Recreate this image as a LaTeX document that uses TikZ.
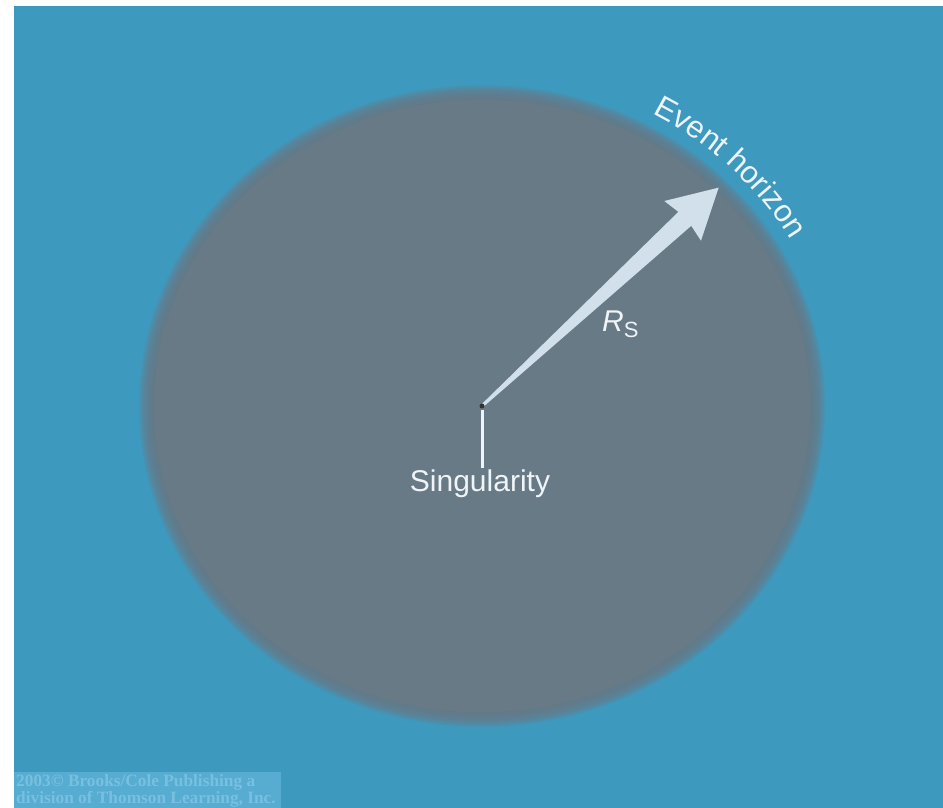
\documentclass[tikz,border=0pt]{standalone}
\usepackage{fontspec}
\setmainfont{Liberation Sans}
\newfontfamily\copyfont{Liberation Serif}
\usetikzlibrary{decorations.text}
\definecolor{skyblue}{HTML}{3E99BF}
\definecolor{holegray}{HTML}{687A85}
\definecolor{arrowblue}{HTML}{D2E0EB}
\definecolor{labelwhite}{HTML}{EEF4F8}
\definecolor{copybox}{HTML}{57ACD1}
\definecolor{copytext}{HTML}{78C0E0}
\tikzset{
  label text/.style={text=labelwhite, inner sep=0pt, font=\fontsize{30}{30}\selectfont},
  copy text/.style={text=copytext, inner sep=0pt, anchor=base west, font=\copyfont\bfseries\fontsize{17.3}{17.3}\selectfont},
}
\begin{document}
\begin{tikzpicture}[x=1pt, y=1pt]
  \useasboundingbox (0,0) rectangle (943,808);
  \fill[white] (0,0) rectangle (943,808);
  \fill[skyblue] (14,0) rectangle (943,802);
  \coordinate (sing) at (482,402);
  % soft rim of the hole
  \foreach \d in {7,5.5,...,-7}
    \fill[holegray, opacity=0.22] (sing) ellipse [x radius=336+\d, y radius=314+\d];
  \fill[holegray] (sing) ellipse [x radius=328, y radius=306];
  \path[decorate, decoration={text along path, text align={fit to path},
      text={|\color{labelwhite}\fontsize{31}{31}\selectfont|Event horizon}}]
    (sing) ++(61.4:356 and 333) arc[start angle=61.4, end angle=30.1, x radius=356, y radius=333];
  \begin{scope}[shift={(sing)}, rotate=42.7]
    \fill[arrowblue] (0,1.5) -- (276,9.5) -- (273,27) -- (322,0) -- (273,-27) -- (276,-9.5) -- (0,-1.5) -- cycle;
  \end{scope}
  \fill[black!80] (sing) circle (2.5);
  \node[label text, anchor=base] (singlabel) at (480,316) {Singularity};
  \draw[labelwhite, line width=3pt] ([yshift=-4pt]sing) -- ([yshift=2pt]sing |- singlabel.north);
  \node[label text, anchor=base west] (rs) at (602,476) {\itshape R\/\fontsize{22}{22}\selectfont\upshape\raisebox{-6pt}{S}};
  \fill[copybox] (14,0) rectangle (281,36);
  \node[copy text] (copy1) at (16,21) {2003\textcopyright{} Brooks/Cole Publishing a};
  \node[copy text] (copy2) at (16,4) {division of Thomson Learning, Inc.};
\end{tikzpicture}
\end{document}
